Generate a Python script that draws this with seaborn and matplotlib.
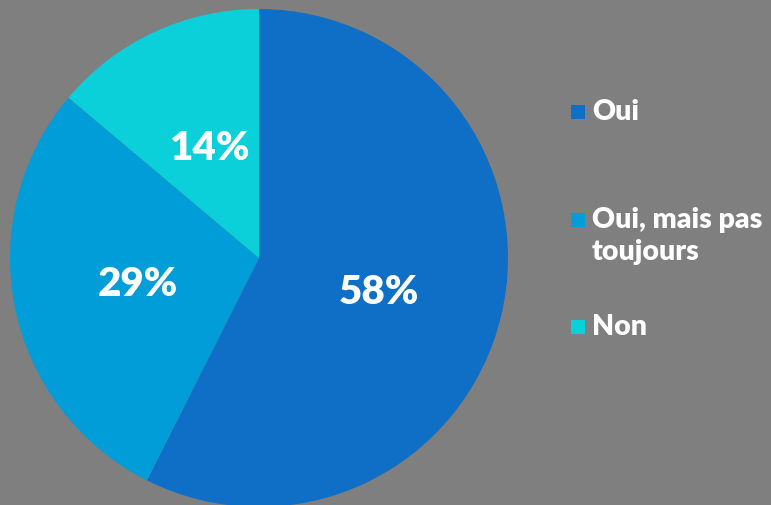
import matplotlib
matplotlib.use("Agg")
import matplotlib.pyplot as plt
from matplotlib.patches import Rectangle
import seaborn as sns

# Survey answers and their shares (percent)
categories = ["Oui", "Oui, mais pas\ntoujours", "Non"]
shares = [58, 29, 14]
colors = ["#0f6fc6", "#009dd9", "#0bd0d9"]
value_labels = ["58%", "29%", "14%"]

sns.set_theme(style="white")
plt.rcParams["font.family"] = ["Lato", "DejaVu Sans"]

W, H = 771, 505
bg = "#7f7f7f"
fig = plt.figure(figsize=(W / 100, H / 100), dpi=100, facecolor=bg)
ax = fig.add_axes([0, 0, 1, 1])
ax.set_facecolor(bg)

palette = sns.color_palette(colors)
cx, cy, r = 259, H - 258, 249
ax.pie(
    shares, colors=palette, startangle=90, counterclock=False,
    center=(cx, cy), radius=r, wedgeprops=dict(linewidth=0),
)
ax.set_xlim(0, W)
ax.set_ylim(0, H)
ax.set_aspect("equal")
ax.axis("off")

# Percentage labels inside the slices
label_pos = [(379, H - 292), (138, H - 285), (210, H - 148)]
for (x, y), txt in zip(label_pos, value_labels):
    ax.text(x, y, txt, color="white", fontsize=29, fontweight="heavy",
            ha="center", va="center")

# Legend: square swatch + label
legend_rows = [H - 112, H - 220, H - 327]
for y, lab, col in zip(legend_rows, categories, palette):
    ax.add_patch(Rectangle((571, y - 7), 14, 14, color=col, lw=0))
    for i, line in enumerate(lab.split("\n")):
        ax.text(592, y - 32 * i, line, color="white", fontsize=20.5,
                fontweight="heavy", ha="left", va="center")

fig.savefig("out.png", dpi=100, facecolor=bg)
